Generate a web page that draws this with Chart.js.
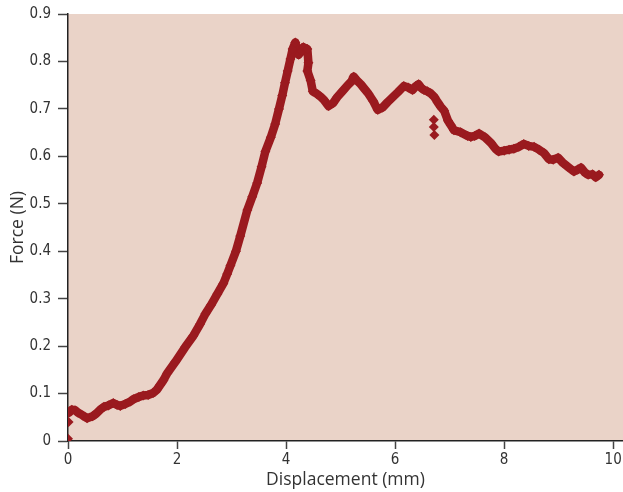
<!DOCTYPE html>
<html>
<head>
<meta charset="utf-8">
<script src="https://cdn.jsdelivr.net/npm/chart.js@4/dist/chart.umd.min.js"></script>
<style>
  html, body { margin: 0; padding: 0; background: #ffffff; overflow: hidden; }
  #wrap { width: 623px; height: 492px; overflow: hidden; }
</style>
</head>
<body>
<!-- canvas is a little wider than the window: the x-axis keeps half of the "10" label as right margin -->
<div id="wrap"><canvas id="forceChart" width="628" height="492"></canvas></div>
<script>
// ===== DATA =====
const displacement = [
  0.02, 0.07, 0.13, 0.18, 0.27, 0.35, 0.45, 0.52, 0.59, 0.66, 0.74, 0.83, 0.90, 0.96,
  1.05, 1.14, 1.20, 1.30, 1.38, 1.47, 1.56, 1.63, 1.69, 1.75, 1.82, 1.97, 2.15, 2.30,
  2.42, 2.52, 2.62, 2.74, 2.85, 2.92, 2.98, 3.08, 3.16, 3.29, 3.38, 3.47, 3.55, 3.62,
  3.72, 3.80, 3.87, 3.93, 3.98, 4.03, 4.08, 4.12, 4.17, 4.23, 4.28, 4.32, 4.39, 4.41,
  4.39, 4.45, 4.49, 4.56, 4.63, 4.70, 4.78, 4.86, 4.94, 5.04, 5.13, 5.20, 5.24, 5.30,
  5.37, 5.44, 5.51, 5.60, 5.68, 5.77, 5.86, 5.95, 6.05, 6.16, 6.24, 6.32, 6.38, 6.43,
  6.48, 6.53, 6.59, 6.65, 6.72, 6.78, 6.84, 6.90, 6.97, 7.02, 7.08, 7.20, 7.33, 7.39,
  7.46, 7.54, 7.65, 7.76, 7.84, 7.90, 8.00, 8.09, 8.18, 8.27, 8.36, 8.45, 8.55, 8.64,
  8.73, 8.82, 8.90, 8.99, 9.08, 9.17, 9.28, 9.35, 9.41, 9.48, 9.54, 9.62, 9.68, 9.74
];
const force = [
  0.060, 0.066, 0.065, 0.060, 0.054, 0.048, 0.052, 0.058, 0.066, 0.072, 0.075, 0.080, 0.076, 0.074,
  0.078, 0.083, 0.088, 0.093, 0.096, 0.097, 0.101, 0.108, 0.118, 0.128, 0.143, 0.167, 0.198, 0.222,
  0.246, 0.268, 0.286, 0.310, 0.332, 0.352, 0.370, 0.400, 0.432, 0.487, 0.515, 0.544, 0.578, 0.610,
  0.640, 0.668, 0.700, 0.728, 0.755, 0.780, 0.805, 0.826, 0.840, 0.814, 0.822, 0.830, 0.826, 0.797,
  0.780, 0.760, 0.737, 0.732, 0.726, 0.718, 0.706, 0.712, 0.725, 0.738, 0.750, 0.758, 0.768, 0.760,
  0.752, 0.742, 0.732, 0.716, 0.698, 0.703, 0.714, 0.724, 0.735, 0.748, 0.745, 0.740, 0.748, 0.752,
  0.744, 0.740, 0.737, 0.733, 0.725, 0.714, 0.704, 0.696, 0.675, 0.666, 0.655, 0.651, 0.643, 0.641,
  0.643, 0.648, 0.640, 0.628, 0.616, 0.610, 0.612, 0.614, 0.616, 0.620, 0.626, 0.622, 0.620, 0.614,
  0.607, 0.594, 0.593, 0.597, 0.586, 0.578, 0.568, 0.572, 0.576, 0.566, 0.561, 0.562, 0.556, 0.561
];
// stray points that sit off the main trace
const strayX = [0.00, 0.01, 6.71, 6.71, 6.72];
const strayY = [0.005, 0.040, 0.677, 0.662, 0.645];

const xTicks = [0, 2, 4, 6, 8, 10];
const yTicks = [0, 0.1, 0.2, 0.3, 0.4, 0.5, 0.6, 0.7, 0.8, 0.9];

const MARK = "#9a1a1f";
const PANEL = "#ead3c8";
const TICK_FONT = "'Liberation Sans Narrow', 'DejaVu Sans Condensed', sans-serif";
const TITLE_FONT = "'Open Sans', 'DejaVu Sans', sans-serif";

// paint the plot area background
const panelFill = {
  id: "panelFill",
  beforeDraw(chart) {
    const { ctx, chartArea: a } = chart;
    ctx.save();
    ctx.fillStyle = PANEL;
    ctx.fillRect(a.left, a.top, a.right - a.left, a.bottom - a.top);
    ctx.restore();
  }
};

const mainPts = displacement.map((x, i) => ({ x, y: force[i] }));
const strayPts = strayX.map((x, i) => ({ x, y: strayY[i] }));

new Chart(document.getElementById("forceChart"), {
  type: "scatter",
  data: {
    datasets: [
      {
        data: mainPts,
        showLine: true,
        borderColor: MARK,
        borderWidth: 8.5,
        borderJoinStyle: "round",
        borderCapStyle: "round",
        backgroundColor: MARK,
        pointStyle: "rectRot",
        pointRadius: 5,
        pointBorderWidth: 0
      },
      {
        data: strayPts,
        showLine: false,
        backgroundColor: MARK,
        borderColor: MARK,
        pointStyle: "rectRot",
        pointRadius: 5,
        pointBorderWidth: 0
      }
    ]
  },
  options: {
    responsive: false,
    animation: false,
    layout: { padding: { top: 14, right: 0, left: 0, bottom: 0 } },
    plugins: { legend: { display: false }, tooltip: { enabled: false } },
    scales: {
      x: {
        type: "linear",
        min: 0,
        max: 10.18,
        afterBuildTicks: s => { s.ticks = xTicks.map(v => ({ value: v })); },
        afterFit: s => { s.height = 51; },
        grid: { drawOnChartArea: false, drawTicks: true, tickLength: 8, color: "#444", tickWidth: 1.5 },
        border: { display: true, color: "#222", width: 1.5 },
        ticks: { color: "#333", font: { family: TICK_FONT, size: 15 }, padding: 2 },
        title: { display: true, text: "Displacement (mm)", color: "#333", font: { family: TITLE_FONT, size: 17.5 }, padding: { top: 0, bottom: 1 } }
      },
      y: {
        type: "linear",
        min: 0,
        max: 0.9,
        afterBuildTicks: s => { s.ticks = yTicks.map(v => ({ value: v })); },
        afterFit: s => { s.width = 68; s.paddingTop = 0; s.paddingBottom = 0; },
        grid: { drawOnChartArea: false, drawTicks: true, tickLength: 10, color: "#444", tickWidth: 1.5 },
        border: { display: true, color: "#222", width: 1.5 },
        ticks: { color: "#333", font: { family: TICK_FONT, size: 15 }, padding: 7, callback: v => String(Math.round(v * 10) / 10) },
        title: { display: true, text: "Force (N)", color: "#333", font: { family: TITLE_FONT, size: 17.5 }, padding: { top: 8, bottom: 2 } }
      }
    }
  },
  plugins: [panelFill]
});
</script>
</body>
</html>
